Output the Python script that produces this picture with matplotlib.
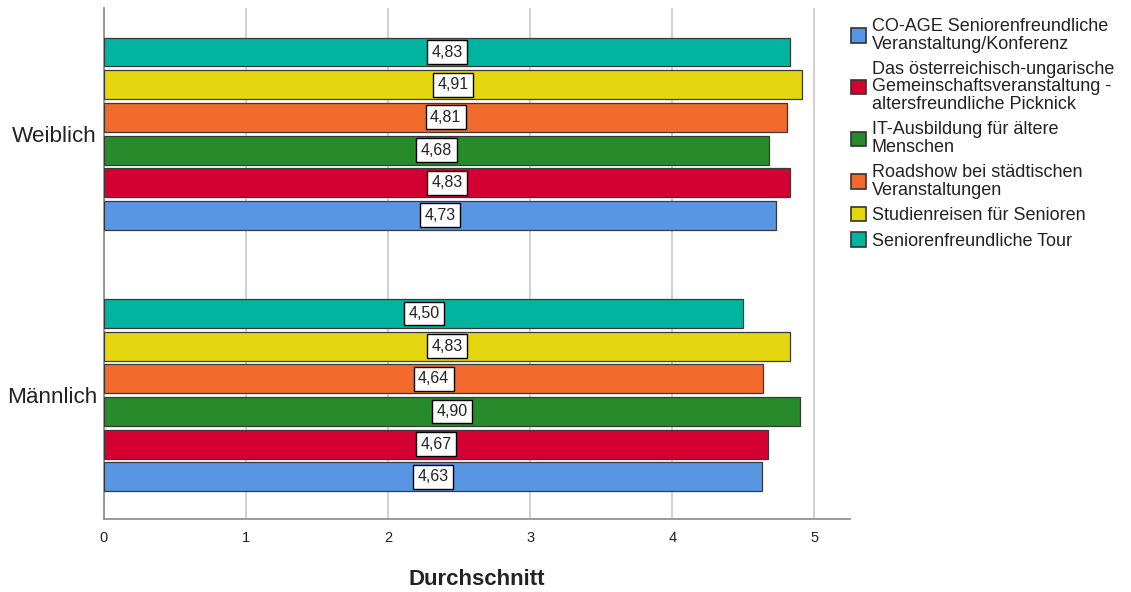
import matplotlib
matplotlib.use("Agg")
import matplotlib.pyplot as plt
import numpy as np

plt.rcParams['font.family'] = ['Liberation Sans', 'DejaVu Sans']

groups = ["Männlich", "Weiblich"]
series = [
    "CO-AGE Seniorenfreundliche\nVeranstaltung/Konferenz",
    "Das österreichisch-ungarische\nGemeinschaftsveranstaltung -\naltersfreundliche Picknick",
    "IT-Ausbildung für ältere\nMenschen",
    "Roadshow bei städtischen\nVeranstaltungen",
    "Studienreisen für Senioren",
    "Seniorenfreundliche Tour",
]
colors = ["#5895E2", "#D50032", "#278A2B", "#F26A2C", "#E4D70F", "#00B4A0"]
# values per series: [Männlich, Weiblich]
values = [
    [4.63, 4.73],
    [4.67, 4.83],
    [4.90, 4.68],
    [4.64, 4.81],
    [4.83, 4.91],
    [4.50, 4.83],
]
xticks = [0, 1, 2, 3, 4, 5]
text_color = "#222222"

fig = plt.figure(figsize=(11.31, 5.92), dpi=100)
ax = fig.add_axes([104 / 1131, 1 - 519 / 592, (850 - 104) / 1131, (519 - 8) / 592])

group_centers = np.array([0.0, 8.0])
n = len(series)
bar_h = 0.88
for i, (name, col, vals) in enumerate(zip(series, colors, values)):
    ypos = group_centers + (i - (n - 1) / 2)
    ax.barh(ypos, vals, height=bar_h, color=col, edgecolor="#3a3a3a",
            linewidth=0.9, label=name, zorder=3)
    for y, v in zip(ypos, vals):
        ax.text(v / 2, y, f"{v:.2f}".replace(".", ","), ha="center", va="center",
                fontsize=11.5, zorder=4, color=text_color,
                bbox=dict(boxstyle="square,pad=0.28", fc="white", ec="black", lw=1.0))

ax.set_xlim(0, 5.25)
ax.set_ylim(-3.79, 11.85)
ax.set_xticks(xticks)
ax.set_xticklabels([str(t) for t in xticks], fontsize=10.5, color=text_color,
                   family=['Liberation Sans Narrow', 'Liberation Sans'])
ax.set_yticks(group_centers)
ax.set_yticklabels(groups, fontsize=16.2, color=text_color)
ax.tick_params(axis="x", length=0, pad=9)
ax.tick_params(axis="y", length=0, pad=5)
ax.grid(axis="x", color="#c8c8c8", linewidth=1.2, zorder=0)
for s in ["top", "right"]:
    ax.spines[s].set_visible(False)
for s in ["left", "bottom"]:
    ax.spines[s].set_color("#8a8a8a")
    ax.spines[s].set_linewidth(1.2)

ax.set_xlabel("Durchschnitt", fontsize=16, fontweight="bold", labelpad=17,
              color=text_color)

leg = fig.legend(loc="upper left", bbox_to_anchor=(851 / 1131, 1 - 18 / 592),
                 frameon=False, fontsize=13, handlelength=0.85, handleheight=0.85,
                 handletextpad=0.3, labelspacing=0.45, borderaxespad=0,
                 borderpad=0, labelcolor=text_color)
for t in leg.get_texts():
    t.set_linespacing(1.05)
for h in leg.legend_handles:
    h.set_edgecolor("#333333")
    h.set_linewidth(1.2)

fig.savefig("out.png", dpi=100)
